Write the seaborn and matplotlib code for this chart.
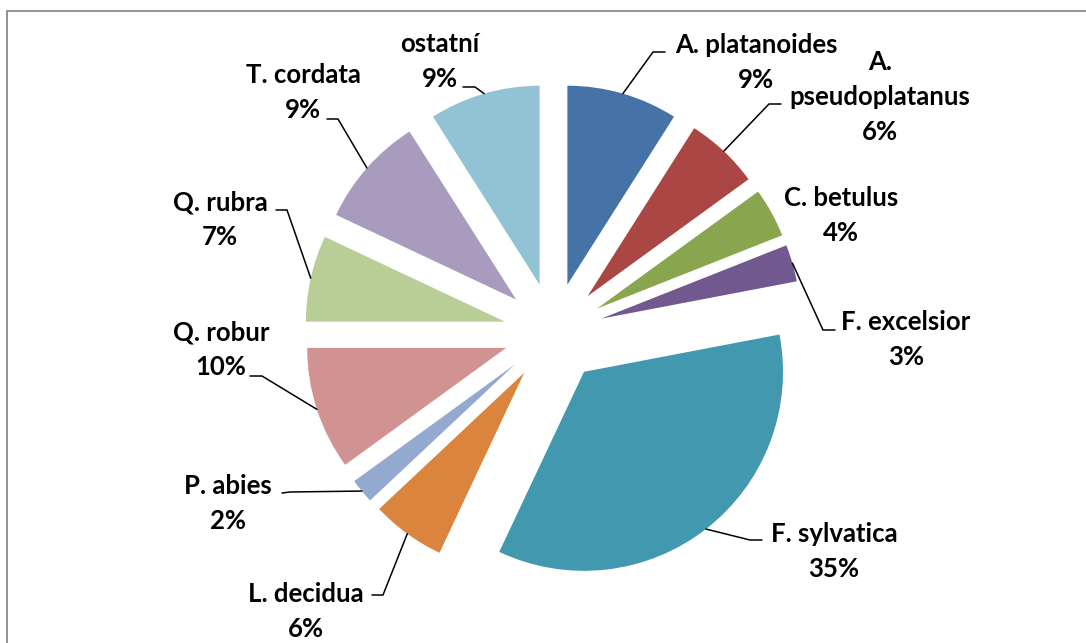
import matplotlib
matplotlib.use("Agg")
import matplotlib.pyplot as plt
import seaborn as sns
import numpy as np
from matplotlib.patches import Rectangle

# ---- data ----
species = ["A. platanoides", "A. pseudoplatanus", "C. betulus", "F. excelsior",
           "F. sylvatica", "L. decidua", "P. abies", "Q. robur", "Q. rubra",
           "T. cordata", "ostatní"]
label_names = ["A. platanoides", "A.\npseudoplatanus", "C. betulus", "F. excelsior",
               "F. sylvatica", "L. decidua", "P. abies", "Q. robur", "Q. rubra",
               "T. cordata", "ostatní"]
shares = [9, 6, 4, 3, 35, 6, 2, 10, 7, 9, 9]
colors = ["#4572A7", "#AA4643", "#89A54E", "#71588F", "#4198AF", "#DB843D",
          "#93A9CF", "#D19392", "#B9CD96", "#A99BBD", "#92C3D4"]

# ---- layout (pixel positions of labels / leader elbows) ----
CX, CY, R = 553.5, 332.5, 199.0
EXPLODE = 0.25
label_pos = {  # centre x, baseline y of first line
    "A. platanoides": (756, 53), "A. pseudoplatanus": (880, 70), "C. betulus": (841, 206),
    "F. excelsior": (906, 330), "F. sylvatica": (834, 542), "L. decidua": (306, 602),
    "P. abies": (228, 494), "Q. robur": (221, 340), "Q. rubra": (220, 210),
    "T. cordata": (303, 83), "ostatní": (440, 52),
}
leader = {  # elbow, end
    "A. platanoides": ((653, 52), (665, 52)), "A. pseudoplatanus": ((769, 104), (781, 104)),
    "F. excelsior": ((823, 330), (835, 330)), "F. sylvatica": ((750, 540), (762, 540)),
    "L. decidua": ((383, 595), (372, 595)), "P. abies": ((290, 492), (282, 493)),
    "Q. robur": ((262, 376), (250, 376)), "Q. rubra": ((287, 210), (276, 210)),
    "T. cordata": ((338, 119), (327, 119)), "ostatní": ((475, 87), (463, 87)),
}
LINE_PITCH = 35

sns.set_theme(style="white")
plt.rcParams["font.family"] = ["Lato", "DejaVu Sans"]

W, H = 1086, 643
fig = plt.figure(figsize=(W / 100, H / 100), dpi=100)
ax = fig.add_axes([0, 0, 1, 1])


def px(x, y):
    return (x - CX) / R, (CY - y) / R


palette = sns.color_palette(colors)
ax.pie(shares, explode=[EXPLODE] * len(shares), colors=palette, startangle=90,
       counterclock=False, radius=1, wedgeprops=dict(linewidth=0))
ax.set_aspect("auto")
ax.set_xlim(-CX / R, (W - CX) / R)
ax.set_ylim(-(H - CY) / R, CY / R)
ax.axis("off")

total = sum(shares)
cum = 0
for name, lab, val in zip(species, label_names, shares):
    mid = 90 - 360 * (cum + val / 2) / total
    cum += val
    th = np.deg2rad(mid)
    start = ((1 + EXPLODE) * np.cos(th), (1 + EXPLODE) * np.sin(th))
    if name in leader:
        (ex, ey), (fx, fy) = leader[name]
        e = px(ex, ey)
        f = px(fx, fy)
        ax.plot([start[0], e[0], f[0]], [start[1], e[1], f[1]], color="black",
                lw=1.1, solid_joinstyle="miter")
    lx, ly = label_pos[name]
    lines = lab.split("\n") + [f"{val}%"]
    for i, t in enumerate(lines):
        tx, ty = px(lx, ly + i * LINE_PITCH)
        ax.text(tx, ty, t, ha="center", va="baseline", fontsize=18.5,
                fontweight="bold", color="black")

fig.patches.append(Rectangle((7 / W, -0.05), 1.2, 1 - 11 / H + 0.05,
                             transform=fig.transFigure, fill=False,
                             edgecolor="#898989", lw=1.3))

fig.savefig("out.png", dpi=100)
